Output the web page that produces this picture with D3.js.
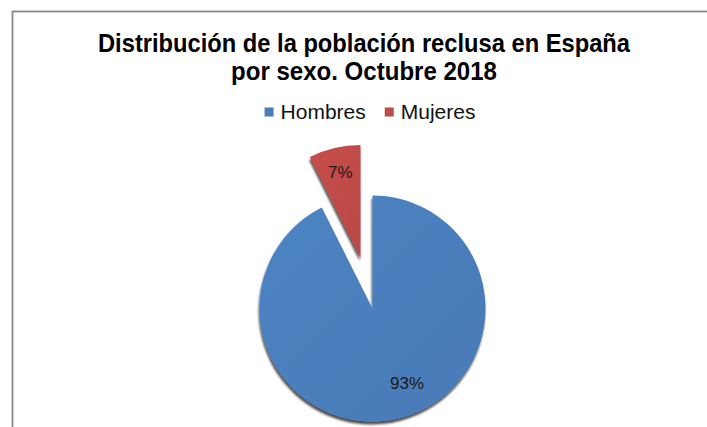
<!DOCTYPE html>
<html>
<head>
<meta charset="utf-8">
<script src="https://cdn.jsdelivr.net/npm/d3@7"></script>
<style>
  body { margin: 0; background: #fff; }
  svg text { font-family: "Liberation Sans", Arial, sans-serif; }
</style>
</head>
<body>
<div id="chart"></div>
<script>
// data
const categories = ["Hombres", "Mujeres"];
const values = [92.6, 7.4];
const colors = ["#4A7EBB", "#BE4B48"];
const titleLines = ["Distribución de la población reclusa en España", "por sexo. Octubre 2018"];

const W = 707, H = 427;
const cx = 372.5, cy = 308.5, radius = 113;
const explode = { Mujeres: 52 };
// label placement (Excel "best fit" look)
const labelR = { Hombres: 0.73, Mujeres: 0.78 };
const labelTurn = { Hombres: -11.5 * Math.PI / 180, Mujeres: 0 };
// title widths as drawn in the picture (narrow, tall glyphs)
const titleWidths = [532, 266];

const svg = d3.select("#chart").append("svg")
    .attr("width", W)
    .attr("height", H);

const defs = svg.append("defs");
const shadow = defs.append("filter")
    .attr("id", "shadow")
    .attr("x", "-20%").attr("y", "-20%")
    .attr("width", "140%").attr("height", "140%");
shadow.append("feDropShadow")
    .attr("dx", -0.8).attr("dy", 3)
    .attr("stdDeviation", 1.3)
    .attr("flood-color", "#000")
    .attr("flood-opacity", 0.7);

colors.forEach(function (c, i) {
    const g = defs.append("linearGradient")
        .attr("id", "grad" + i)
        .attr("x1", "0%").attr("y1", "0%")
        .attr("x2", "100%").attr("y2", "100%");
    g.append("stop").attr("offset", "0%").attr("stop-color", d3.color(c).brighter(0.12));
    g.append("stop").attr("offset", "100%").attr("stop-color", d3.color(c).darker(0.08));
});

// chart frame
svg.append("rect")
    .attr("x", 12.5).attr("y", 11.5)
    .attr("width", W + 20).attr("height", H + 20)
    .attr("fill", "#fff")
    .attr("stroke", "#8a8a8a")
    .attr("stroke-width", 1.8);

// title
svg.append("g").selectAll("text")
    .data(titleLines)
    .enter().append("text")
    .attr("x", 364)
    .attr("y", function (d, i) { return 52 + i * 28; })
    .attr("text-anchor", "middle")
    .attr("font-size", 26)
    .attr("font-weight", "bold")
    .attr("fill", "#000")
    .attr("textLength", function (d, i) { return titleWidths[i]; })
    .attr("lengthAdjust", "spacingAndGlyphs")
    .text(function (d) { return d; });

// legend
const legend = svg.append("g");
const items = legend.selectAll("g")
    .data(categories)
    .enter().append("g");
items.append("rect")
    .attr("width", 9).attr("height", 9)
    .attr("y", 107.5)
    .attr("fill", function (d, i) { return colors[i]; });
items.append("text")
    .attr("x", 16)
    .attr("y", 119)
    .attr("font-size", 21)
    .attr("fill", "#111")
    .text(function (d) { return d; });
let widths = [];
items.each(function () {
    widths.push(16 + d3.select(this).select("text").node().getComputedTextLength());
});
const gap = 19;
const total = d3.sum(widths) + gap * (widths.length - 1);
let xpos = 370 - total / 2;
items.attr("transform", function (d, i) {
    const t = `translate(${xpos},0)`;
    xpos += widths[i] + gap;
    return t;
});

// pie
const pie = d3.pie().sort(null).value(function (d) { return d; });
const arcs = pie(values);
const arc = d3.arc().innerRadius(0).outerRadius(radius);
const sum = d3.sum(values);

const slice = svg.append("g")
    .attr("transform", `translate(${cx},${cy})`)
    .selectAll("g")
    .data(arcs)
    .enter().append("g")
    .attr("transform", function (d, i) {
        const off = explode[categories[i]] || 0;
        const mid = (d.startAngle + d.endAngle) / 2;
        return `translate(${Math.sin(mid) * off},${-Math.cos(mid) * off})`;
    });

slice.append("path")
    .attr("d", arc)
    .attr("fill", function (d, i) { return "url(#grad" + i + ")"; })
    .attr("filter", "url(#shadow)");

slice.append("text")
    .attr("transform", function (d, i) {
        const name = categories[i];
        const a = (d.startAngle + d.endAngle) / 2 + labelTurn[name];
        const r = radius * labelR[name];
        return `translate(${Math.sin(a) * r},${-Math.cos(a) * r})`;
    })
    .attr("text-anchor", "middle")
    .attr("dy", "0.36em")
    .attr("font-size", 17)
    .attr("fill", "#1a1a1a")
    .text(function (d) { return Math.round(d.value / sum * 100) + "%"; });
</script>
</body>
</html>
